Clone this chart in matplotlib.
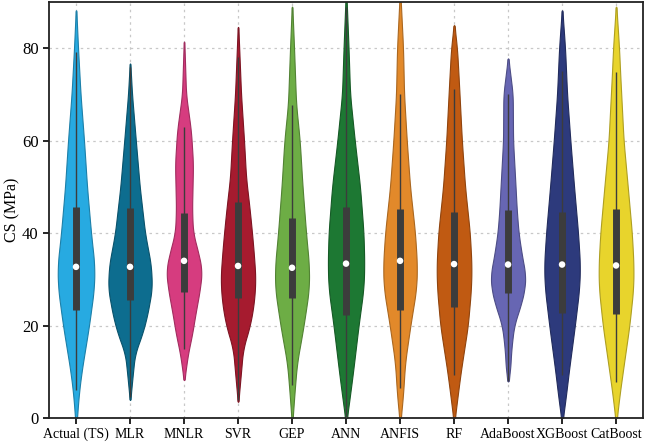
import numpy as np
import matplotlib
matplotlib.use("Agg")
import matplotlib.pyplot as plt

models = ["Actual (TS)", "MLR", "MNLR", "SVR", "GEP", "ANN", "ANFIS", "RF",
          "AdaBoost", "XGBoost", "CatBoost"]
colors = ["#27aae1", "#0d6d8f", "#d63c7f", "#a61b2f", "#6dad45", "#1d7833",
          "#e2892a", "#c05a12", "#6766b3", "#2d3a7c", "#e8d42c"]

# density profiles: CS levels and half-widths (pixels)
levels = {
    "Actual (TS)": [-2, 5, 10, 20, 28, 33, 40, 50, 60, 70, 80, 88.2],
    "MLR":         [3.9, 10, 14, 18, 22, 28, 33, 40, 50, 60, 70, 76.7],
    "MNLR":        [8.2, 14, 18, 22, 28, 32, 36, 40, 45, 50, 55, 62, 70, 81.4],
    "SVR":         [3.5, 10, 15, 20, 25, 30, 35, 40, 45, 52, 60, 70, 84.6],
    "GEP":         [-1, 7, 12, 18, 22, 28, 33, 40, 50, 60, 68, 80, 89],
    "ANN":         [-1, 5, 10, 20, 28, 33, 40, 50, 60, 70, 80, 92],
    "ANFIS":       [-1, 5, 12, 20, 28, 33, 40, 50, 60, 70, 80, 92],
    "RF":          [-1, 5, 10, 20, 28, 33, 40, 50, 60, 72, 80, 85],
    "AdaBoost":    [7.9, 10, 15, 20, 25, 28, 31, 35, 40, 45, 50, 60, 70, 77.8],
    "XGBoost":     [-1, 5, 10, 20, 28, 33, 40, 50, 60, 70, 80, 88.2],
    "CatBoost":    [-1, 5, 10, 20, 28, 33, 40, 50, 60, 75, 80, 89],
}
halfwidths = {
    "Actual (TS)": [0.3, 2.7, 5.5, 13, 18, 18.5, 15, 11, 8, 4.5, 2, 0.3],
    "MLR":         [0.3, 3, 5, 12, 17, 22, 21, 15, 9.7, 5.8, 2, 0.3],
    "MNLR":        [0.3, 4, 8, 11, 16, 18, 14, 9, 8, 8.5, 9, 7, 2, 0.3],
    "SVR":         [0.3, 3, 5, 12, 16, 17.5, 16, 14, 11.7, 8, 6, 3, 0.3],
    "GEP":         [0.3, 3, 5, 10, 13, 17, 17, 14, 10.5, 7.7, 4, 2, 0.3],
    "ANN":         [0.3, 4, 7, 12.5, 17.5, 18.3, 17.5, 14, 8.7, 4, 2.5, 0.3],
    "ANFIS":       [0.3, 3, 5, 10.3, 16.3, 17, 15, 10, 6.7, 4, 3, 0.3],
    "RF":          [0.3, 3.7, 6.7, 13.8, 17, 17.5, 15.8, 11, 7.8, 5, 3, 0.3],
    "AdaBoost":    [0.3, 2, 3.3, 6, 13.5, 16.7, 17.5, 14, 10.5, 8.7, 7.5, 5, 4.7, 0.3],
    "XGBoost":     [0.3, 4, 6.7, 12.8, 17.2, 18, 16, 12, 8.3, 5, 3, 0.3],
    "CatBoost":    [0.3, 3.5, 6.7, 13.3, 17.2, 17.5, 15.8, 11.7, 7.5, 4, 3, 0.3],
}
q1 =      [23.4, 25.5, 27.3, 25.9, 25.9, 22.3, 23.4, 24.1, 27.0, 22.7, 22.5]
medians = [32.7, 32.7, 34.0, 32.9, 32.5, 33.4, 34.0, 33.3, 33.2, 33.2, 33.0]
q3 =      [45.7, 45.5, 44.3, 46.8, 43.2, 45.7, 45.3, 44.6, 45.0, 44.6, 45.2]
whisk_lo = [6.0, 4.5, 15.0, 4.0, 7.2, 0.0, 6.4, 9.3, 8.0, 9.3, 7.8]
whisk_hi = [79.2, 76.0, 63.0, 78.0, 67.7, 89.0, 70.0, 71.2, 70.0, 75.0, 74.9]

px_per_unit = 54.0

plt.rcParams['font.family'] = ['Liberation Serif', 'DejaVu Serif']
fig = plt.figure(figsize=(6.45, 4.46), dpi=100)
ax = fig.add_axes([0.076, 0.0628, 0.921, 0.9327])


def darker(c, f=0.7):
    rgb = np.array(matplotlib.colors.to_rgb(c))
    return tuple(rgb * f)


for i, m in enumerate(models):
    ys = np.array(levels[m], dtype=float)
    ws = np.array(halfwidths[m], dtype=float) / px_per_unit
    yy = np.linspace(ys[0], ys[-1], 400)
    ww = np.interp(yy, ys, ws)
    k = 25
    kern = np.ones(k) / k
    pad = np.pad(ww, k // 2, mode='edge')
    ws_s = np.convolve(pad, kern, mode='valid')[:len(yy)]
    ws_s[0] = ws_s[-1] = 0.002
    ax.fill_betweenx(yy, i - ws_s, i + ws_s, facecolor=colors[i],
                     edgecolor=darker(colors[i], 0.75), linewidth=0.8, zorder=2)
    ax.plot([i, i], [whisk_lo[i], whisk_hi[i]], color="#3c3c3c", lw=1.0,
            zorder=3, solid_capstyle='butt')
    ax.plot([i, i], [q1[i], q3[i]], color="#3c3c3c", lw=5, zorder=4,
            solid_capstyle='butt')
    ax.scatter([i], [medians[i]], s=22, color="white", zorder=5,
               edgecolors='none')

ax.set_xlim(-0.5, len(models) - 0.5)
ax.set_ylim(0, 90)
ax.set_xticks(range(len(models)))
ax.set_xticklabels(models, fontsize=10)
ax.set_yticks([0, 20, 40, 60, 80])
ax.tick_params(axis='y', labelsize=12, direction='out', length=4, width=1.2)
ax.tick_params(axis='x', direction='out', length=4, width=1.2, pad=3)
ax.set_ylabel("CS (MPa)", fontsize=11.5, labelpad=1)
ax.grid(True, linestyle=(0, (2, 3)), color="#c8c8c8", linewidth=0.9, zorder=0)
ax.set_axisbelow(True)
for s in ax.spines.values():
    s.set_linewidth(1.3)
    s.set_color("#222222")

fig.savefig("out.png", dpi=100)
